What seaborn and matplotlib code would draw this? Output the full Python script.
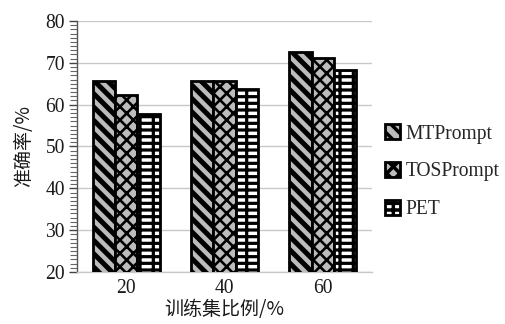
import matplotlib
matplotlib.use("Agg")
import matplotlib.pyplot as plt
from matplotlib.patches import Patch
import seaborn as sns
import pandas as pd

# Accuracy (%) of each method at each training-set ratio
ratios = ["20", "40", "60"]
methods = ["MTPrompt", "TOSPrompt", "PET"]
mtprompt = [65.6, 65.6, 72.6]
tosprompt = [62.3, 65.6, 71.1]
pet = [57.8, 63.7, 68.2]
y_ticks = [20, 30, 40, 50, 60, 70, 80]

# Render at 80 dpi so the hatch cell (one inch) is 80 px wide;
# sizes below are given in pixels and converted to points.
DPI = 80
W_PX, H_PX = 505, 324


def pt(px):
    return px * 72.0 / DPI


df = pd.DataFrame({
    "ratio": ratios * 3,
    "method": [m for m in methods for _ in ratios],
    "acc": mtprompt + tosprompt + pet,
})

sns.set_theme(style="white")
plt.rcParams["font.family"] = ["Liberation Serif", "Noto Sans CJK SC", "DejaVu Sans"]
plt.rcParams["hatch.linewidth"] = pt(3.5)
plt.rcParams["hatch.color"] = "black"

fig = plt.figure(figsize=(W_PX / DPI, H_PX / DPI), dpi=DPI)
ax = fig.add_axes([0.1525, 0.1605, 0.584, 0.7747])

sns.barplot(data=df, x="ratio", y="acc", hue="method", order=ratios,
            hue_order=methods, ax=ax, width=0.68, gap=0, legend=False,
            saturation=1, zorder=3)

styles = {
    "MTPrompt": dict(face="#bcbcbc", hatch="\\\\", hlw=5.0),
    "TOSPrompt": dict(face="#bcbcbc", hatch="xx", hlw=2.6),
    "PET": dict(face="#ffffff", hatch="+-", hlw=3.2),
}


def style_patch(p, st):
    p.set_facecolor(st["face"])
    p.set_edgecolor("black")
    p.set_hatch(st["hatch"])
    p.set_linewidth(pt(2.8))
    if hasattr(p, "set_hatch_linewidth"):
        p.set_hatch_linewidth(pt(st["hlw"]))


for cont, m in zip(ax.containers, methods):
    for bar in cont:
        style_patch(bar, styles[m])

ax.set_ylim(20, 80)
ax.set_xlim(-0.5, 2.5)
ax.set_yticks(y_ticks)
ax.set_yticks(range(20, 81), minor=True)
ax.yaxis.grid(True, color="#c8c8c8", linewidth=pt(1.4), zorder=0)
ax.set_axisbelow(True)

for s in ["top", "right"]:
    ax.spines[s].set_visible(False)
ax.spines["left"].set_color("#555555")
ax.spines["left"].set_linewidth(pt(1.4))
ax.spines["bottom"].set_color("#c8c8c8")
ax.spines["bottom"].set_linewidth(pt(1.4))

FS = pt(19.5)
ax.tick_params(axis="y", which="major", direction="out", length=pt(8), width=pt(1.4),
               color="#444444", left=True, labelsize=FS, pad=pt(4), labelcolor="#1a1a1a")
ax.tick_params(axis="y", which="minor", direction="out", length=pt(7), width=pt(1.1),
               color="#666666", left=True)
ax.tick_params(axis="x", length=0, labelsize=FS, pad=pt(7), labelcolor="#1a1a1a")

cjk = ["Noto Sans CJK SC", "DejaVu Sans"]
ax.set_xlabel("训练集比例/%", fontsize=pt(19), family=cjk, color="#1a1a1a", labelpad=pt(1))
ax.set_ylabel("准确率/%", fontsize=pt(19), family=cjk, color="#1a1a1a", labelpad=pt(11))

handles = []
for m in methods:
    h = Patch(label=m)
    style_patch(h, styles[m])
    handles.append(h)
fig.legend(handles=handles, loc="center left", bbox_to_anchor=(0.762, 0.47),
           frameon=False, fontsize=FS, handlelength=0.8, handleheight=0.8,
           handletextpad=0.25, labelspacing=0.95, borderpad=0, borderaxespad=0)

fig.savefig("out.png", dpi=DPI)
